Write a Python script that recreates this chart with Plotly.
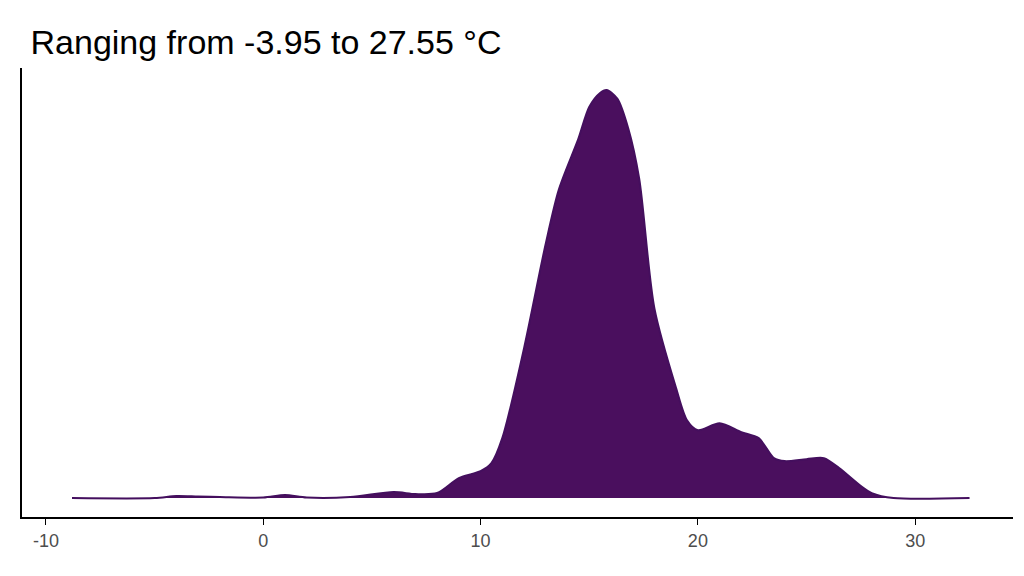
import plotly.graph_objects as go

# temperature (°C) and density height (arbitrary units)
temp = [-8.8, -5, -4, -3, -2, 0, 1, 2, 4, 6, 7, 8, 9, 10, 10.5, 11, 12, 13, 13.6, 14.5,
        15, 15.5, 15.8, 16.3, 16.8, 17.3, 18, 19, 19.5, 20, 21, 22, 22.8, 23.5, 24, 25,
        25.8, 26.5, 27.5, 28, 29, 32.5]
dens = [0, 0, 2, 1.5, 1, 0.5, 3, 0.5, 1, 6, 4, 5, 20, 27, 35, 60, 150, 255, 309, 360,
        392, 406, 409, 400, 370, 320, 190, 110, 78, 68, 75, 66, 60, 40, 37, 39,
        40, 30, 12, 5, 0, 0]
ticks = [-10, 0, 10, 20, 30]
tick_labels = ["-10", "0", "10", "20", "30"]

fig = go.Figure(go.Scatter(
    x=temp, y=dens, mode="lines", fill="tozeroy",
    line=dict(color="#440f5e", width=2, shape="spline", smoothing=0.8),
    fillcolor="#4a0f5e", hoverinfo="skip"))

fig.update_layout(
    width=1024, height=576, plot_bgcolor="white", paper_bgcolor="white",
    margin=dict(l=14, r=19, t=60, b=67), showlegend=False,
    title=dict(text="Ranging from -3.95 to 27.55 °C", x=0.022, xanchor="left",
               y=0.94, yanchor="middle",
               font=dict(family="Liberation Sans, Arial", size=34, color="black")),
    xaxis=dict(range=[-11.1, 34.5], tickvals=ticks, ticktext=tick_labels,
               ticks="outside", ticklen=6,
               tickcolor="black", showline=True, linecolor="black", linewidth=2,
               showgrid=False, zeroline=False,
               tickfont=dict(family="Liberation Sans, Arial", size=18, color="#4d4d4d")),
    yaxis=dict(range=[-19, 431], showticklabels=False, ticks="", showline=True,
               linecolor="black", linewidth=2, showgrid=False, zeroline=False),
)

fig.write_html("out.html")
